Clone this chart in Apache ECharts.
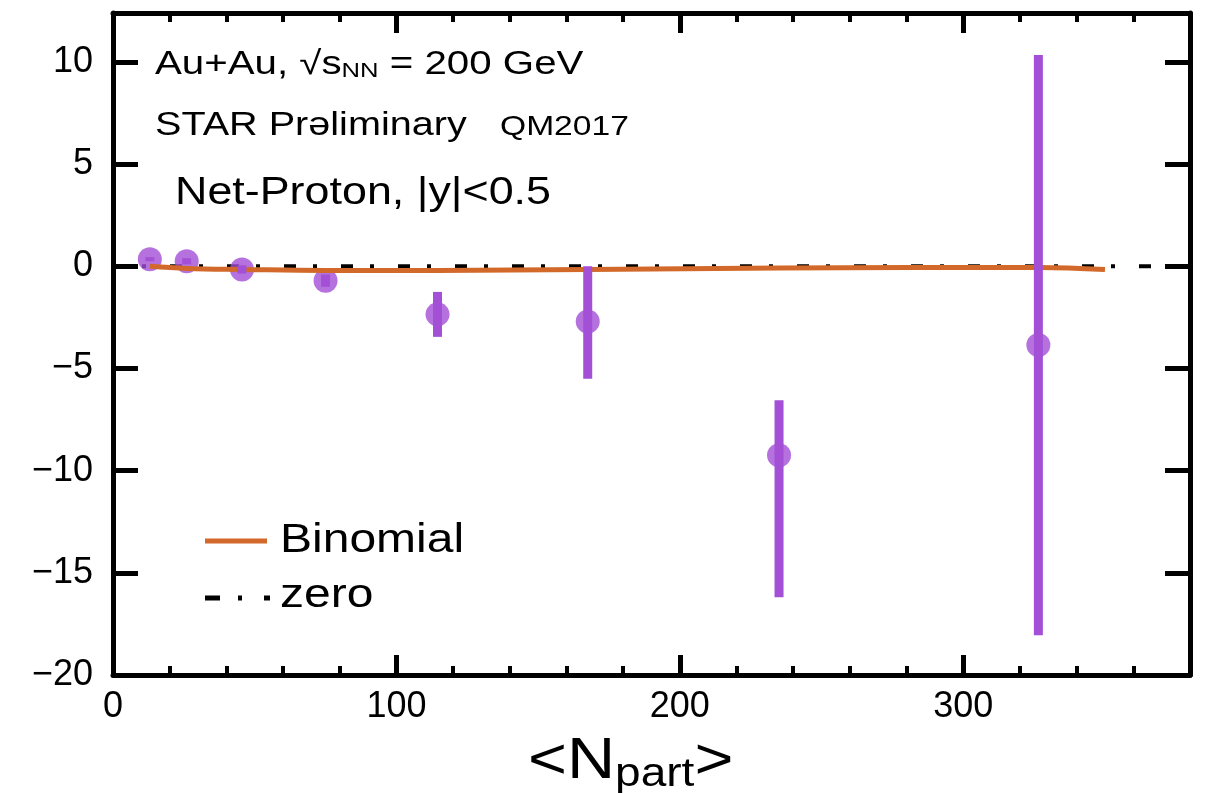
<!DOCTYPE html>
<html>
<head>
    <meta charset="utf-8">
    <title>Net-Proton C6/C2</title>
    <script src="https://cdn.jsdelivr.net/npm/echarts@6/dist/echarts.min.js"></script>
    <style>
        html, body { margin: 0; padding: 0; background: #fff; }
    </style>
</head>
<body>
    <div id="main" style="width: 1205px;height:793px;"></div>
    <script type="text/javascript">
        // data
        var npart = [13, 26, 45.5, 75, 114.5, 167.5, 235, 326.5];
        var ratio = [0.35, 0.25, -0.15, -0.7, -2.35, -2.7, -9.25, -3.85];
        var errUp = [0.1, 0.15, 0.2, 0.3, 1.1, 2.7, 2.7, 14.2];
        var errDown = [0.1, 0.15, 0.2, 0.3, 1.1, 2.8, 6.95, 14.2];

        var binomX = [13, 26, 45.5, 75, 114.5, 167.5, 235, 326.5, 350];
        var binomY = [0, -0.1, -0.15, -0.2, -0.2, -0.15, -0.08, -0.05, -0.15];

        var zeroX = [0, 380];

        var FONT = 'Liberation Sans, Arial, Helvetica, sans-serif';
        var PURPLE = '#a34fd6';
        var ORANGE = '#d2692a';

        var points = [], bars = [], binom = [], zero = [];
        for (var i = 0; i < npart.length; i++) {
            points.push([npart[i], ratio[i]]);
            bars.push([npart[i], ratio[i] - errDown[i], ratio[i] + errUp[i]]);
        }
        for (var j = 0; j < binomX.length; j++) {
            binom.push([binomX[j], binomY[j]]);
        }
        for (var k = 0; k < zeroX.length; k++) {
            zero.push([zeroX[k], 0]);
        }

        function yLabel(v) {
            if (v % 5 !== 0) return '';
            return v < 0 ? '\u2212' + (-v) : String(v);
        }

        var axisLine = { show: true, onZero: false, lineStyle: { color: '#000', width: 5 } };
        var noLine = { show: false, onZero: false };

        var myChart = echarts.init(document.getElementById('main'));

        var option = {
            animation: false,
            grid: { left: 113, top: 13, right: 15, bottom: 118, containLabel: false, outerBoundsMode: 'none' },
            xAxis: [
                {
                    type: 'value', min: 0, max: 380, interval: 100, position: 'bottom',
                    axisLine: axisLine,
                    axisTick: { inside: true, length: 20, lineStyle: { color: '#000', width: 5 } },
                    axisLabel: {
                        color: '#000', fontSize: 36, fontFamily: FONT, margin: 14,
                        formatter: function (v) { return v % 100 === 0 ? String(v) : ''; }
                    },
                    splitLine: { show: false }
                },
                {
                    type: 'value', min: 0, max: 380, interval: 20, position: 'bottom',
                    axisLine: noLine,
                    axisTick: { inside: true, length: 9, lineStyle: { color: '#000', width: 4 } },
                    axisLabel: { show: false }, splitLine: { show: false }
                },
                {
                    type: 'value', min: 0, max: 380, interval: 100, position: 'top',
                    axisLine: axisLine,
                    axisTick: { inside: true, length: 20, lineStyle: { color: '#000', width: 5 } },
                    axisLabel: { show: false }, splitLine: { show: false }
                },
                {
                    type: 'value', min: 0, max: 380, interval: 20, position: 'top',
                    axisLine: noLine,
                    axisTick: { inside: true, length: 9, lineStyle: { color: '#000', width: 4 } },
                    axisLabel: { show: false }, splitLine: { show: false }
                }
            ],
            yAxis: [
                {
                    type: 'value', min: -20, max: 12.4, interval: 5, position: 'left',
                    axisLine: axisLine,
                    axisTick: { inside: true, length: 25, lineStyle: { color: '#000', width: 5 } },
                    axisLabel: { color: '#000', fontSize: 36, fontFamily: FONT, margin: 20, formatter: yLabel },
                    splitLine: { show: false }
                },
                {
                    type: 'value', min: -20, max: 12.4, interval: 5, position: 'right',
                    axisLine: axisLine,
                    axisTick: { inside: true, length: 25, lineStyle: { color: '#000', width: 5 } },
                    axisLabel: { show: false }, splitLine: { show: false }
                }
            ],
            series: [
                {
                    name: 'zero', type: 'line', data: zero, showSymbol: false, z: 1,
                    lineStyle: { color: '#000', width: 4, type: [12, 17, 4, 24], cap: 'butt' }
                },
                {
                    name: 'data', type: 'scatter', data: points, symbol: 'circle', symbolSize: 24, z: 2,
                    itemStyle: { color: PURPLE }
                },
                {
                    name: 'Binomial', type: 'line', data: binom, showSymbol: false, smooth: 0.4, z: 3,
                    lineStyle: { color: ORANGE, width: 5 }
                },
                {
                    name: 'err', type: 'custom', data: bars, z: 4,
                    renderItem: function (params, api) {
                        var x = api.value(0);
                        var lo = api.coord([x, api.value(1)]);
                        var hi = api.coord([x, api.value(2)]);
                        return {
                            type: 'line',
                            shape: { x1: lo[0], y1: lo[1], x2: hi[0], y2: hi[1] },
                            style: { stroke: PURPLE, lineWidth: 9 }
                        };
                    }
                }
            ],
            graphic: [
                {
                    type: 'text', x: 155, y: 47, scaleX: 1.22,
                    style: {
                        text: '{a|Au+Au, \u221As}{s|NN}{a| = 200 GeV}',
                        rich: {
                            a: { fontSize: 33, fontFamily: FONT, fill: '#000' },
                            s: { fontSize: 21, fontFamily: FONT, fill: '#000', padding: [14, 0, 0, 0] }
                        }
                    }
                },
                {
                    type: 'text', x: 155, y: 109, scaleX: 1.2,
                    style: { text: 'STAR Pr\u0259liminary', fontSize: 33, fontFamily: FONT, fill: '#000' }
                },
                {
                    type: 'text', x: 500, y: 113, scaleX: 1.2,
                    style: { text: 'QM2017', fontSize: 28, fontFamily: FONT, fill: '#000' }
                },
                {
                    type: 'text', x: 175, y: 175, scaleX: 1.18,
                    style: { text: 'Net-Proton, |y|<0.5', fontSize: 38, fontFamily: FONT, fill: '#000' }
                },
                {
                    type: 'text', x: 528, y: 729, scaleX: 1.15,
                    style: {
                        text: '{a|<N}{b|part}{a|>}',
                        rich: {
                            a: { fontSize: 58, fontFamily: FONT, fill: '#000' },
                            b: { fontSize: 40, fontFamily: FONT, fill: '#000', padding: [26, 0, 0, 0] }
                        }
                    }
                },
                {
                    type: 'line', shape: { x1: 205, y1: 541, x2: 267, y2: 541 },
                    style: { stroke: ORANGE, lineWidth: 5 }
                },
                {
                    type: 'text', x: 280, y: 521, scaleX: 1.2,
                    style: { text: 'Binomial', fontSize: 40, fontFamily: FONT, fill: '#000' }
                },
                {
                    type: 'line', shape: { x1: 205, y1: 598, x2: 270, y2: 598 },
                    style: { stroke: '#000', lineWidth: 5, lineDash: [15, 18, 4, 22] }
                },
                {
                    type: 'text', x: 280, y: 576, scaleX: 1.2,
                    style: { text: 'zero', fontSize: 40, fontFamily: FONT, fill: '#000' }
                }
            ]
        };

        myChart.setOption(option);
    </script>
</body>
</html>
